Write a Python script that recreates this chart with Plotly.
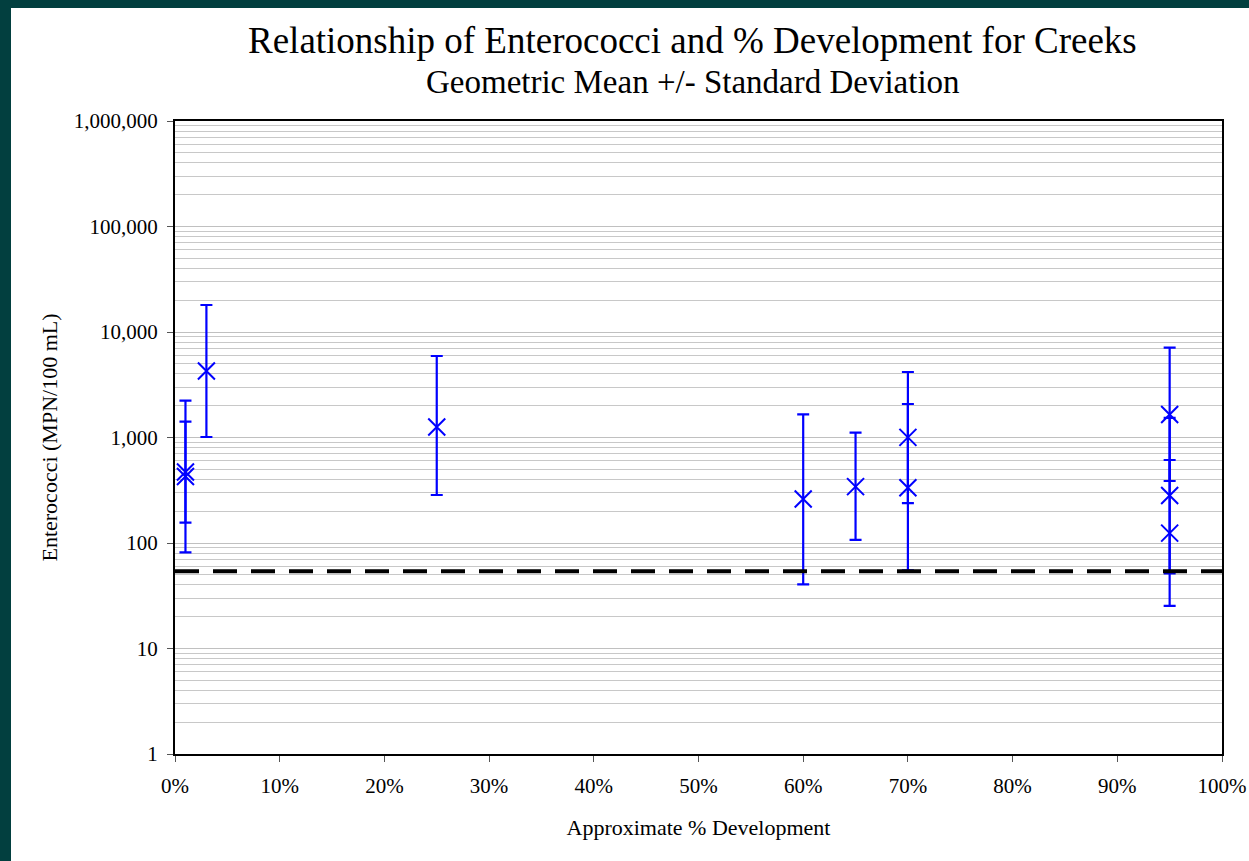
import plotly.graph_objects as go

# Data (geometric mean, +1 SD, -1 SD)
development = [0.01, 0.01, 0.03, 0.25, 0.60, 0.65, 0.70, 0.70, 0.95, 0.95, 0.95]
geo_mean    = [471, 427, 4266, 1259, 261, 342, 1003, 334, 1650, 282, 124]
upper_sd    = [1413, 2234, 18030, 5925, 1660, 1111, 4178, 2078, 7100, 1537, 612]
lower_sd    = [156, 81.6, 1011, 285, 40.6, 107, 239, 55, 387, 51.6, 25.3]
threshold = 54

x_ticks = [0, 0.1, 0.2, 0.3, 0.4, 0.5, 0.6, 0.7, 0.8, 0.9, 1.0]
y_ticks = [1, 10, 100, 1000, 10000, 100000, 1000000]

title_text = "Relationship of Enterococci and % Development for Creeks"
subtitle_text = "Geometric Mean +/- Standard Deviation"

FONT = "Liberation Serif, Times New Roman, serif"
BLUE = "#0000ff"

fig = go.Figure()
fig.add_trace(go.Scatter(
    x=development, y=geo_mean, mode="markers",
    marker=dict(symbol="x-thin-open", size=17, color=BLUE, line=dict(color=BLUE, width=2)),
    error_y=dict(type="data", symmetric=False,
                 array=[u - m for u, m in zip(upper_sd, geo_mean)],
                 arrayminus=[m - l for m, l in zip(geo_mean, lower_sd)],
                 color=BLUE, thickness=2.2, width=6),
    showlegend=False, hoverinfo="x+y",
))

fig.add_hline(y=threshold, line=dict(color="black", width=4, dash="24px,14px"))

# page layout geometry
L, R, T, B = 175, 27, 121, 107
W, H = 1249, 861
pw, ph = W - L - R, H - T - B

def px_x(p):
    return (p - L) / pw

def px_y(p):
    return 1 + (T - p) / ph

# dark border strips on the page (left and top)
fig.add_shape(type="rect", xref="paper", yref="paper",
              x0=px_x(0), x1=px_x(11), y0=px_y(H + 2), y1=px_y(-2),
              fillcolor="#023f3f", line=dict(width=0), layer="above")
fig.add_shape(type="rect", xref="paper", yref="paper",
              x0=px_x(0), x1=px_x(W + 2), y0=px_y(8), y1=px_y(-2),
              fillcolor="#023f3f", line=dict(width=0), layer="above")

fig.add_annotation(text=title_text, xref="paper", yref="paper",
                   x=px_x(692), y=px_y(41), xanchor="center", yanchor="middle",
                   showarrow=False, font=dict(family=FONT, size=37, color="black"))
fig.add_annotation(text=subtitle_text, xref="paper", yref="paper",
                   x=px_x(693), y=px_y(82), xanchor="center", yanchor="middle",
                   showarrow=False, font=dict(family=FONT, size=33, color="black"))

fig.update_layout(
    width=W, height=H,
    margin=dict(l=L, r=R, t=T, b=B, autoexpand=False),
    paper_bgcolor="white", plot_bgcolor="white",
    font=dict(family=FONT, color="black", size=21),
    xaxis=dict(
        range=[0, 1], tickvals=x_ticks, tickformat=".0%",
        showgrid=False, zeroline=False,
        showline=True, linecolor="black", linewidth=2, mirror=True,
        ticks="outside", ticklen=6, tickcolor="#555", tickwidth=1,
        tickfont=dict(size=21), ticklabelstandoff=6,
        title=dict(text="Approximate % Development", font=dict(size=22), standoff=22),
    ),
    yaxis=dict(
        type="log", range=[0, 6], tickvals=y_ticks, tickformat=",d",
        showgrid=True, gridcolor="#c0c0c0", gridwidth=1,
        minor=dict(dtick="D1", showgrid=True, gridcolor="#c8c8c8", gridwidth=1, ticks=""),
        zeroline=False,
        showline=True, linecolor="black", linewidth=2, mirror=True,
        ticks="outside", ticklen=6, tickcolor="#555", tickwidth=1,
        tickfont=dict(size=21), ticklabelstandoff=5,
        title=dict(text="Enterococci (MPN/100 mL)", font=dict(size=22), standoff=10),
    ),
)

fig.write_html("out.html")
